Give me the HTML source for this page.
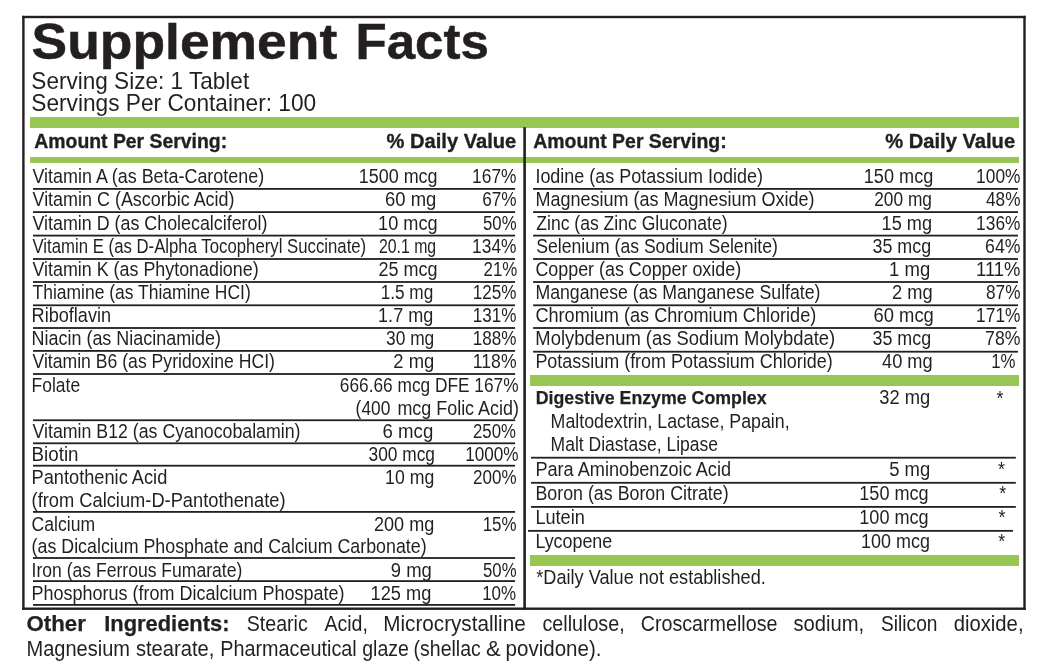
<!DOCTYPE html>
<html lang="en"><head><meta charset="utf-8"><title>Supplement Facts</title>
<style>
html,body{margin:0;padding:0;background:#fff;}
body{width:1057px;height:663px;position:relative;overflow:hidden;font-family:"Liberation Sans",sans-serif;color:#231f20;}
.b{position:absolute;}
.g{position:absolute;left:0;top:0;width:1057px;height:663px;will-change:transform;}
.t{position:absolute;white-space:pre;line-height:1;transform-origin:0 0;}
.title{font-size:50.8px;font-weight:bold;-webkit-text-stroke:0.5px #231f20;}
.sv{font-size:23.6px;}
.hd{font-size:20.0px;font-weight:bold;-webkit-text-stroke:0.35px #231f20;}
.r{font-size:19.7px;}
.cb{font-size:18.8px;font-weight:bold;-webkit-text-stroke:0.25px #231f20;}
.ast{font-size:21.0px;}
.p{font-size:21.5px;}
.pb{font-size:21.5px;font-weight:bold;-webkit-text-stroke:0.25px #231f20;}
</style></head><body>
<svg class="b" style="left:0;top:0" width="1057" height="663" viewBox="0 0 1057 663">
<rect x="22.20" y="15.80" width="1003.50" height="2.40" fill="#231f20"/>
<rect x="22.20" y="607.50" width="1003.50" height="2.40" fill="#231f20"/>
<rect x="22.20" y="15.80" width="2.40" height="594.10" fill="#231f20"/>
<rect x="1023.30" y="15.80" width="2.40" height="594.10" fill="#231f20"/>
<rect x="30.00" y="117.00" width="989.00" height="11.00" fill="#98c652"/>
<rect x="30.00" y="157.00" width="989.00" height="6.00" fill="#98c652"/>
<rect x="530.00" y="375.00" width="489.00" height="11.00" fill="#98c652"/>
<rect x="530.00" y="555.00" width="489.00" height="11.00" fill="#98c652"/>
<rect x="523.30" y="127.20" width="2.60" height="482.80" fill="#231f20"/>
<rect x="33.00" y="188.00" width="482.10" height="1.80" fill="#231f20"/>
<rect x="33.00" y="211.20" width="482.10" height="1.80" fill="#231f20"/>
<rect x="33.00" y="234.70" width="482.10" height="1.80" fill="#231f20"/>
<rect x="33.00" y="258.10" width="482.10" height="1.80" fill="#231f20"/>
<rect x="33.00" y="281.10" width="482.10" height="1.80" fill="#231f20"/>
<rect x="33.00" y="304.40" width="482.10" height="1.80" fill="#231f20"/>
<rect x="33.00" y="327.10" width="482.10" height="1.80" fill="#231f20"/>
<rect x="33.00" y="350.00" width="482.10" height="1.80" fill="#231f20"/>
<rect x="33.00" y="373.10" width="482.10" height="1.80" fill="#231f20"/>
<rect x="33.00" y="419.35" width="482.10" height="1.80" fill="#231f20"/>
<rect x="33.00" y="442.40" width="482.10" height="1.80" fill="#231f20"/>
<rect x="33.00" y="464.80" width="482.10" height="1.80" fill="#231f20"/>
<rect x="33.00" y="511.00" width="482.10" height="1.80" fill="#231f20"/>
<rect x="33.00" y="557.10" width="482.10" height="1.80" fill="#231f20"/>
<rect x="33.00" y="580.20" width="482.10" height="1.80" fill="#231f20"/>
<rect x="33.00" y="604.00" width="482.10" height="1.80" fill="#231f20"/>
<rect x="533.10" y="188.00" width="484.90" height="1.80" fill="#231f20"/>
<rect x="533.10" y="211.20" width="484.90" height="1.80" fill="#231f20"/>
<rect x="533.10" y="234.70" width="484.90" height="1.80" fill="#231f20"/>
<rect x="533.10" y="258.10" width="484.90" height="1.80" fill="#231f20"/>
<rect x="533.10" y="281.10" width="484.90" height="1.80" fill="#231f20"/>
<rect x="533.10" y="304.40" width="484.90" height="1.80" fill="#231f20"/>
<rect x="533.10" y="327.10" width="483.10" height="1.80" fill="#231f20"/>
<rect x="533.10" y="350.80" width="484.90" height="1.80" fill="#231f20"/>
<rect x="531.00" y="456.80" width="484.80" height="1.80" fill="#231f20"/>
<rect x="531.00" y="481.90" width="484.80" height="1.80" fill="#231f20"/>
<rect x="531.00" y="506.00" width="484.80" height="1.80" fill="#231f20"/>
<rect x="528.00" y="529.95" width="485.00" height="1.80" fill="#231f20"/>
</svg>
<div class="g">
<span class="t title" style="left:31px;top:17px;transform:translate(0.55px,0) scaleX(1.0515)">Supplement</span>
<span class="t title" style="left:355px;top:17px;transform:translate(0.48px,0) scaleX(1.0051)">Facts</span>
<span class="t sv" style="left:31px;top:70px;transform:translate(0.34px,0) scaleX(0.9563)">Serving Size: 1 Tablet</span>
<span class="t sv" style="left:31px;top:92px;transform:translate(0.34px,0) scaleX(0.9608)">Servings Per Container: 100</span>
<span class="t hd" style="left:34px;top:131px;transform:translate(0.30px,0) scaleX(0.9693)">Amount Per Serving:</span>
<span class="t hd" style="left:386px;top:131px;transform:translate(0.50px,0) scaleX(1.0060)">% Daily Value</span>
<span class="t hd" style="left:533px;top:131px;transform:translate(0.30px,0) scaleX(0.9718)">Amount Per Serving:</span>
<span class="t hd" style="left:885px;top:131px;transform:translate(0.20px,0) scaleX(1.0075)">% Daily Value</span>
<span class="t r" style="left:32px;top:167px;transform:translate(0.50px,0) scaleX(0.9097)">Vitamin A (as Beta-Carotene)</span>
<span class="t r" style="left:358px;top:167px;transform:translate(0.79px,0) scaleX(0.9111)">1500 mcg</span>
<span class="t r" style="left:472px;top:167px;transform:translate(0.12px,0) scaleX(0.8823)">167%</span>
<span class="t r" style="left:32px;top:190px;transform:translate(0.50px,0) scaleX(0.9111)">Vitamin C (Ascorbic Acid)</span>
<span class="t r" style="left:385px;top:190px;transform:translate(0.06px,0) scaleX(0.9362)">60 mg</span>
<span class="t r" style="left:482px;top:190px;transform:translate(0.13px,0) scaleX(0.8734)">67%</span>
<span class="t r" style="left:32px;top:214px;transform:translate(0.50px,0) scaleX(0.9072)">Vitamin D (as Cholecalciferol)</span>
<span class="t r" style="left:378px;top:214px;transform:translate(0.08px,0) scaleX(0.9215)">10 mcg</span>
<span class="t r" style="left:483px;top:214px;transform:translate(0.00px,0) scaleX(0.8509)">50%</span>
<span class="t r" style="left:32px;top:237px;transform:translate(0.50px,0) scaleX(0.8510)">Vitamin E (as D-Alpha Tocopheryl Succinate)</span>
<span class="t r" style="left:379px;top:237px;transform:translate(0.00px,0) scaleX(0.8036)">20.1 mg</span>
<span class="t r" style="left:472px;top:237px;transform:translate(0.12px,0) scaleX(0.8823)">134%</span>
<span class="t r" style="left:32px;top:260px;transform:translate(0.50px,0) scaleX(0.9075)">Vitamin K (as Phytonadione)</span>
<span class="t r" style="left:378px;top:260px;transform:translate(0.50px,0) scaleX(0.9149)">25 mcg</span>
<span class="t r" style="left:483px;top:260px;transform:translate(0.50px,0) scaleX(0.8586)">21%</span>
<span class="t r" style="left:32px;top:283px;transform:translate(0.50px,0) scaleX(0.8880)">Thiamine (as Thiamine HCI)</span>
<span class="t r" style="left:380px;top:283px;transform:translate(0.63px,0) scaleX(0.8740)">1.5 mg</span>
<span class="t r" style="left:472px;top:283px;transform:translate(0.83px,0) scaleX(0.8680)">125%</span>
<span class="t r" style="left:31px;top:306px;transform:translate(0.58px,0) scaleX(0.9195)">Riboflavin</span>
<span class="t r" style="left:378px;top:306px;transform:translate(0.08px,0) scaleX(0.9169)">1.7 mg</span>
<span class="t r" style="left:472px;top:306px;transform:translate(0.83px,0) scaleX(0.8680)">131%</span>
<span class="t r" style="left:31px;top:329px;transform:translate(0.59px,0) scaleX(0.9112)">Niacin (as Niacinamide)</span>
<span class="t r" style="left:386px;top:329px;transform:translate(0.00px,0) scaleX(0.8816)">30 mg</span>
<span class="t r" style="left:472px;top:329px;transform:translate(0.83px,0) scaleX(0.8680)">188%</span>
<span class="t r" style="left:32px;top:352px;transform:translate(0.50px,0) scaleX(0.8945)">Vitamin B6 (as Pyridoxine HCI)</span>
<span class="t r" style="left:393px;top:352px;transform:translate(0.30px,0) scaleX(0.9365)">2 mg</span>
<span class="t r" style="left:472px;top:352px;transform:translate(0.81px,0) scaleX(0.8948)">118%</span>
<span class="t r" style="left:31px;top:376px;transform:translate(0.61px,0) scaleX(0.8871)">Folate</span>
<span class="t r" style="left:339px;top:376px;transform:translate(0.82px,0) scaleX(0.8780)">666.66 mcg DFE 167%</span>
<span class="t r" style="left:355px;top:399px;transform:translate(0.62px,0) scaleX(0.8790)">(400</span>
<span class="t r" style="left:397px;top:399px;transform:translate(0.39px,0) scaleX(0.9105)">mcg Folic Acid)</span>
<span class="t r" style="left:32px;top:422px;transform:translate(0.50px,0) scaleX(0.9015)">Vitamin B12 (as Cyanocobalamin)</span>
<span class="t r" style="left:382px;top:422px;transform:translate(0.55px,0) scaleX(0.9465)">6 mcg</span>
<span class="t r" style="left:473px;top:422px;transform:translate(0.00px,0) scaleX(0.8546)">250%</span>
<span class="t r" style="left:31px;top:445px;transform:translate(0.55px,0) scaleX(0.9535)">Biotin</span>
<span class="t r" style="left:368px;top:445px;transform:translate(0.50px,0) scaleX(0.8798)">300 mcg</span>
<span class="t r" style="left:465px;top:445px;transform:translate(0.13px,0) scaleX(0.8713)">1000%</span>
<span class="t r" style="left:31px;top:468px;transform:translate(0.57px,0) scaleX(0.9252)">Pantothenic Acid</span>
<span class="t r" style="left:385px;top:468px;transform:translate(0.10px,0) scaleX(0.8983)">10 mg</span>
<span class="t r" style="left:473px;top:468px;transform:translate(0.00px,0) scaleX(0.8646)">200%</span>
<span class="t r" style="left:31px;top:491px;transform:translate(0.57px,0) scaleX(0.9284)">(from Calcium-D-Pantothenate)</span>
<span class="t r" style="left:31px;top:515px;transform:translate(0.61px,0) scaleX(0.8923)">Calcium</span>
<span class="t r" style="left:374px;top:515px;transform:translate(0.00px,0) scaleX(0.9178)">200 mg</span>
<span class="t r" style="left:482px;top:515px;transform:translate(0.64px,0) scaleX(0.8602)">15%</span>
<span class="t r" style="left:31px;top:537px;transform:translate(0.60px,0) scaleX(0.9047)">(as Dicalcium Phosphate and Calcium Carbonate)</span>
<span class="t r" style="left:31px;top:561px;transform:translate(0.61px,0) scaleX(0.8915)">Iron (as Ferrous Fumarate)</span>
<span class="t r" style="left:390px;top:561px;transform:translate(0.80px,0) scaleX(0.9365)">9 mg</span>
<span class="t r" style="left:483px;top:561px;transform:translate(0.00px,0) scaleX(0.8509)">50%</span>
<span class="t r" style="left:31px;top:584px;transform:translate(0.59px,0) scaleX(0.9134)">Phosphorus (from Dicalcium Phospate)</span>
<span class="t r" style="left:370px;top:584px;transform:translate(0.58px,0) scaleX(0.9244)">125 mg</span>
<span class="t r" style="left:482px;top:584px;transform:translate(0.14px,0) scaleX(0.8602)">10%</span>
<span class="t r" style="left:535px;top:167px;transform:translate(0.39px,0) scaleX(0.9119)">Iodine (as Potassium Iodide)</span>
<span class="t r" style="left:863px;top:167px;transform:translate(0.78px,0) scaleX(0.9203)">150 mcg</span>
<span class="t r" style="left:976px;top:167px;transform:translate(0.12px,0) scaleX(0.8803)">100%</span>
<span class="t r" style="left:535px;top:190px;transform:translate(0.39px,0) scaleX(0.9143)">Magnesium (as Magnesium Oxide)</span>
<span class="t r" style="left:874px;top:190px;transform:translate(0.20px,0) scaleX(0.8792)">200 mg</span>
<span class="t r" style="left:986px;top:190px;transform:translate(0.00px,0) scaleX(0.8741)">48%</span>
<span class="t r" style="left:536px;top:214px;transform:translate(0.30px,0) scaleX(0.8916)">Zinc (as Zinc Gluconate)</span>
<span class="t r" style="left:881px;top:214px;transform:translate(0.58px,0) scaleX(0.9210)">15 mg</span>
<span class="t r" style="left:976px;top:214px;transform:translate(0.12px,0) scaleX(0.8803)">136%</span>
<span class="t r" style="left:536px;top:237px;transform:translate(0.30px,0) scaleX(0.8938)">Selenium (as Sodium Selenite)</span>
<span class="t r" style="left:872px;top:237px;transform:translate(0.50px,0) scaleX(0.9086)">35 mcg</span>
<span class="t r" style="left:985px;top:237px;transform:translate(0.10px,0) scaleX(0.8971)">64%</span>
<span class="t r" style="left:535px;top:260px;transform:translate(0.39px,0) scaleX(0.9081)">Copper (as Copper oxide)</span>
<span class="t r" style="left:889px;top:260px;transform:translate(0.06px,0) scaleX(0.9398)">1 mg</span>
<span class="t r" style="left:976px;top:260px;transform:translate(0.06px,0) scaleX(0.9363)">111%</span>
<span class="t r" style="left:535px;top:283px;transform:translate(0.40px,0) scaleX(0.8983)">Manganese (as Manganese Sulfate)</span>
<span class="t r" style="left:892px;top:283px;transform:translate(0.00px,0) scaleX(0.9295)">2 mg</span>
<span class="t r" style="left:986px;top:283px;transform:translate(0.00px,0) scaleX(0.8741)">87%</span>
<span class="t r" style="left:535px;top:306px;transform:translate(0.38px,0) scaleX(0.9204)">Chromium (as Chromium Chloride)</span>
<span class="t r" style="left:873px;top:306px;transform:translate(0.57px,0) scaleX(0.9327)">60 mcg</span>
<span class="t r" style="left:976px;top:306px;transform:translate(0.12px,0) scaleX(0.8803)">171%</span>
<span class="t r" style="left:535px;top:329px;transform:translate(0.37px,0) scaleX(0.9349)">Molybdenum (as Sodium Molybdate)</span>
<span class="t r" style="left:872px;top:329px;transform:translate(0.50px,0) scaleX(0.9086)">35 mcg</span>
<span class="t r" style="left:985px;top:329px;transform:translate(0.10px,0) scaleX(0.8971)">78%</span>
<span class="t r" style="left:535px;top:352px;transform:translate(0.39px,0) scaleX(0.9116)">Potassium (from Potassium Chloride)</span>
<span class="t r" style="left:882px;top:352px;transform:translate(0.00px,0) scaleX(0.9262)">40 mg</span>
<span class="t r" style="left:991px;top:352px;transform:translate(0.15px,0) scaleX(0.8535)">1%</span>
<span class="t cb" style="left:535px;top:389px;transform:translate(0.65px,0) scaleX(0.9455)">Digestive Enzyme Complex</span>
<span class="t r" style="left:879px;top:388px;transform:translate(0.20px,0) scaleX(0.9318)">32 mg</span>
<span class="t r" style="left:550px;top:412px;transform:translate(0.60px,0) scaleX(0.9025)">Maltodextrin, Lactase, Papain,</span>
<span class="t r" style="left:550px;top:435px;transform:translate(0.61px,0) scaleX(0.8897)">Malt Diastase, Lipase</span>
<span class="t r" style="left:535px;top:460px;transform:translate(0.38px,0) scaleX(0.9217)">Para Aminobenzoic Acid</span>
<span class="t r" style="left:889px;top:460px;transform:translate(0.20px,0) scaleX(0.9365)">5 mg</span>
<span class="t r" style="left:535px;top:484px;transform:translate(0.39px,0) scaleX(0.9055)">Boron (as Boron Citrate)</span>
<span class="t r" style="left:859px;top:484px;transform:translate(0.28px,0) scaleX(0.9190)">150 mcg</span>
<span class="t r" style="left:535px;top:508px;transform:translate(0.38px,0) scaleX(0.9208)">Lutein</span>
<span class="t r" style="left:859px;top:508px;transform:translate(0.28px,0) scaleX(0.9190)">100 mcg</span>
<span class="t r" style="left:535px;top:532px;transform:translate(0.39px,0) scaleX(0.9080)">Lycopene</span>
<span class="t r" style="left:861px;top:532px;transform:translate(0.09px,0) scaleX(0.9108)">100 mcg</span>
<span class="t r" style="left:536px;top:568px;transform:translate(0.30px,0) scaleX(0.9209)">*Daily Value not established.</span>
<span class="t ast" style="left:996px;top:387px;transform:translate(0.40px,0) scaleX(0.8500)">*</span>
<span class="t ast" style="left:998px;top:458px;transform:translate(0.00px,0) scaleX(0.8500)">*</span>
<span class="t ast" style="left:999px;top:482px;transform:translate(0.20px,0) scaleX(0.8500)">*</span>
<span class="t ast" style="left:998px;top:506px;transform:translate(0.60px,0) scaleX(0.8500)">*</span>
<span class="t ast" style="left:998px;top:530px;transform:translate(0.20px,0) scaleX(0.8500)">*</span>
<span class="t pb" style="left:26px;top:614px;transform:translate(0.50px,0) scaleX(1.0350)">Other</span>
<span class="t pb" style="left:104px;top:614px;transform:translate(0.18px,0) scaleX(1.0184)">Ingredients:</span>
<span class="t p" style="left:246px;top:614px;transform:translate(0.80px,0) scaleX(0.9112)">Stearic</span>
<span class="t p" style="left:324px;top:614px;transform:translate(0.40px,0) scaleX(0.9098)">Acid,</span>
<span class="t p" style="left:383px;top:614px;transform:translate(0.24px,0) scaleX(0.9618)">Microcrystalline</span>
<span class="t p" style="left:542px;top:614px;transform:translate(0.40px,0) scaleX(0.9181)">cellulose,</span>
<span class="t p" style="left:640px;top:614px;transform:translate(0.68px,0) scaleX(0.9160)">Croscarmellose</span>
<span class="t p" style="left:793px;top:614px;transform:translate(0.40px,0) scaleX(0.9407)">sodium,</span>
<span class="t p" style="left:881px;top:614px;transform:translate(0.00px,0) scaleX(0.8913)">Silicon</span>
<span class="t p" style="left:953px;top:614px;transform:translate(0.70px,0) scaleX(0.9421)">dioxide,</span>
<span class="t p" style="left:26px;top:639px;transform:translate(0.47px,0) scaleX(0.9320)">Magnesium</span>
<span class="t p" style="left:135px;top:639px;transform:translate(0.90px,0) scaleX(0.9373)">stearate,</span>
<span class="t p" style="left:220px;top:639px;transform:translate(0.28px,0) scaleX(0.9207)">Pharmaceutical</span>
<span class="t p" style="left:362px;top:639px;transform:translate(0.20px,0) scaleX(0.9080)">glaze</span>
<span class="t p" style="left:413px;top:639px;transform:translate(0.59px,0) scaleX(0.9068)">(shellac</span>
<span class="t p" style="left:486px;top:639px;transform:translate(0.00px,0) scaleX(1.0214)">&amp;</span>
<span class="t p" style="left:505px;top:639px;transform:translate(0.55px,0) scaleX(0.9550)">povidone).</span>
</div>
</body></html>
